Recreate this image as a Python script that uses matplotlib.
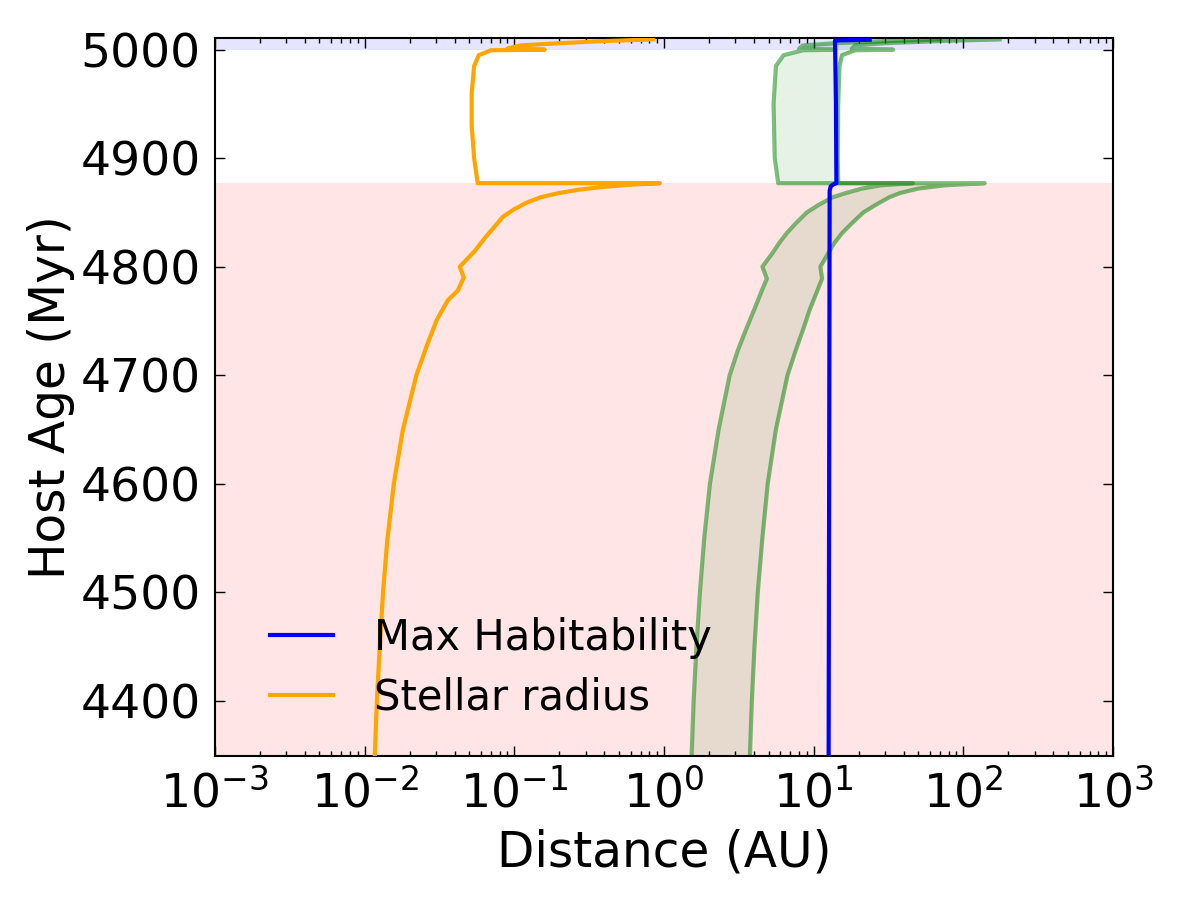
import numpy as np
import matplotlib
matplotlib.use('Agg')
import matplotlib.pyplot as plt

# stellar radius (AU) vs host age (Myr)
star_age = [4348, 4400, 4446, 4500, 4548, 4600, 4649, 4700, 4728, 4751, 4769, 4778,
            4790, 4800, 4809, 4815, 4822, 4829, 4837, 4846, 4853, 4859, 4864, 4868,
            4871, 4873.5, 4875.5, 4877, 4877, 4900, 4930, 4960, 4985, 4995, 4999.5,
            5000, 5001, 5004, 5006, 5008, 5009.5]
star_radius = [0.0117, 0.0121, 0.0126, 0.0133, 0.0142, 0.0157, 0.0180, 0.0222, 0.0262,
               0.0304, 0.0360, 0.042, 0.046, 0.0433, 0.050, 0.055, 0.060, 0.066, 0.074,
               0.084, 0.100, 0.121, 0.150, 0.20, 0.27, 0.39, 0.58, 0.94, 0.057, 0.054,
               0.052, 0.052, 0.054, 0.058, 0.07, 0.16, 0.09, 0.11, 0.2, 0.4, 0.85]

# habitable zone edges (AU)
hz_age = [4348, 4400, 4450, 4500, 4550, 4600, 4650, 4700, 4723, 4744, 4760, 4778,
          4789, 4800, 4813, 4822, 4831, 4840, 4850, 4857, 4864, 4868, 4872, 4875,
          4877, 4877, 4900, 4950, 4985, 4995, 4999.5, 5000, 5001, 5004, 5006, 5008,
          5009.5]
hz_inner = [1.53, 1.58, 1.65, 1.74, 1.86, 2.03, 2.32, 2.75, 3.12, 3.58, 4.0, 4.51,
            4.87, 4.55, 5.34, 5.9, 6.62, 7.6, 9.0, 10.8, 13.4, 16.5, 21.0, 28.0,
            46.0, 5.8, 5.5, 5.4, 5.6, 6.3, 8.5, 14.0, 8.0, 8.5, 14.0, 30.0, 70.0]
hz_outer = [3.75, 3.87, 4.03, 4.24, 4.55, 4.94, 5.6, 6.7, 7.6, 8.6, 9.4, 10.6,
            11.4, 11.1, 12.6, 13.8, 15.5, 18.0, 21.5, 26.0, 32.0, 38.0, 50.0, 75.0,
            139.0, 14.6, 14.5, 14.6, 14.9, 15.5, 19.0, 34.0, 18.0, 19.0, 30.0, 70.0,
            175.0]

# max habitability distance (AU)
mh_age = [4348, 4600, 4870, 4874, 4876, 4877, 4950, 5008.5, 5009.2]
mh_dist = [12.6, 12.7, 12.8, 13.0, 13.6, 14.2, 14.1, 13.9, 23.7]

# evolutionary phase boundaries (Myr)
rgb_tip = 4877
agb_start = 5000

plt.rcParams['font.family'] = 'DejaVu Sans'
plt.rcParams['mathtext.fontset'] = 'dejavusans'

fig = plt.figure(figsize=(12, 9), dpi=100)
ax = fig.add_axes([0.179, 0.16, 0.7485, 0.798])

ax.axhspan(4300, rgb_tip, color='red', alpha=0.1, lw=0, zorder=0)
ax.axhspan(agb_start, 5100, color='blue', alpha=0.1, lw=0, zorder=0)

ax.fill_betweenx(hz_age, hz_inner, hz_outer, color='green', alpha=0.1, lw=0, zorder=1)
ax.plot(hz_inner, hz_age, color='green', alpha=0.5, lw=3, zorder=2)
ax.plot(hz_outer, hz_age, color='green', alpha=0.5, lw=3, zorder=2)
ax.plot(star_radius, star_age, color='orange', lw=3, label='Stellar radius', zorder=3)
ax.plot(mh_dist, mh_age, color='blue', lw=3, label='Max Habitability', zorder=4)

ax.set_xscale('log')
ax.set_xlim(1e-3, 1e3)
ax.set_ylim(4349, 5011)
ax.set_yticks([4400, 4500, 4600, 4700, 4800, 4900, 5000])

ax.set_xlabel('Distance (AU)', fontsize=35, labelpad=8)
ax.set_ylabel('Host Age (Myr)', fontsize=35)
ax.tick_params(which='both', direction='in', top=True, right=True)
ax.tick_params(which='major', length=7, width=1, labelsize=34, pad=10)
ax.tick_params(which='minor', length=3.5, width=1)
for s in ax.spines.values():
    s.set_linewidth(1.5)

handles, labels = ax.get_legend_handles_labels()
ax.legend(handles[::-1], labels[::-1], loc='lower left', frameon=False, fontsize=30,
          handlelength=1.5, handletextpad=1.0, labelspacing=0.42,
          bbox_to_anchor=(0.02, 0.0))

fig.savefig('out.png', dpi=100)
